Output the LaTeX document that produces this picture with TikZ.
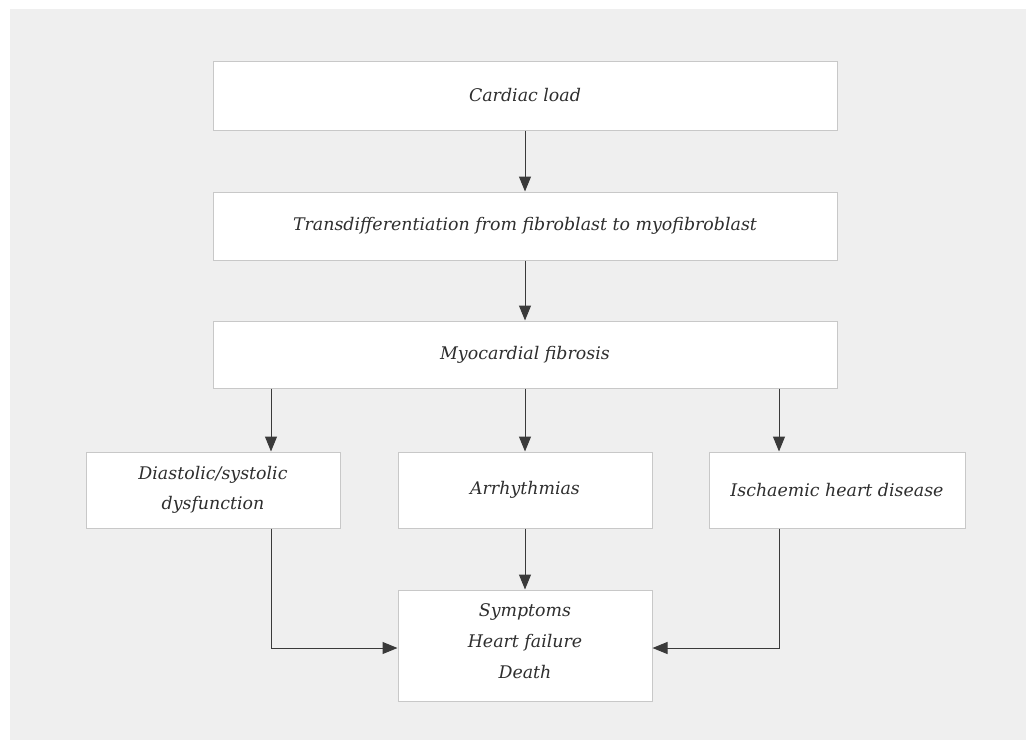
\documentclass[tikz,border=0pt]{standalone}
\usepackage{fontspec}
\setmainfont{DejaVu Serif}
\usetikzlibrary{arrows.meta}
\definecolor{panel}{HTML}{EFEFEF}
\definecolor{boxline}{HTML}{C8C8C8}
\definecolor{txt}{HTML}{2E2E2E}
\definecolor{arr}{HTML}{3A3A3A}
\tikzset{
  box/.style={draw=boxline, line width=1pt, fill=white, inner sep=0pt, align=center,
     text=txt, font=\fontsize{17.4}{30}\selectfont\itshape},
  conn/.style={draw=arr, line width=1pt, -{Triangle[length=15pt,width=12pt]}},
}
\begin{document}
\begin{tikzpicture}[x=1pt,y=-1pt]
\useasboundingbox (0,0) rectangle (1026,740);
\fill[white] (0,0) rectangle (1026,740);
\fill[panel] (10,9) rectangle (1026,740);
% boxes
\node[box, minimum width=624pt, minimum height=69pt] (load) at (525,95.5) {Cardiac load};
\node[box, minimum width=624pt, minimum height=68pt] (trans) at (525,226) {Transdifferentiation from fibroblast to myofibroblast};
\node[box, minimum width=624pt, minimum height=67pt] (fib) at (525,354.5) {Myocardial fibrosis};
\node[box, minimum width=254pt, minimum height=76pt] (dia) at (213,490) {Diastolic/systolic\\dysfunction};
\node[box, minimum width=254pt, minimum height=76pt] (arr) at (525,490) {Arrhythmias};
\node[box, minimum width=256pt, minimum height=76pt] (isch) at (837,490) {Ischaemic heart disease};
\node[box, minimum width=254pt, minimum height=111pt] (sym) at (525,645.5) {};
\node[text=txt, font=\fontsize{17.4}{31}\selectfont\itshape, align=center, inner sep=0pt] (symtxt) at (525,641) {Symptoms\\Heart failure\\Death};
% connectors
\draw[conn] (load.south) -- (trans.north);
\draw[conn] (trans.south) -- (fib.north);
\coordinate (fa) at (271,0);
\coordinate (fb) at (779,0);
\draw[conn] (fib.south -| fa) -- (dia.north -| fa);
\draw[conn] (fib.south) -- (arr.north);
\draw[conn] (fib.south -| fb) -- (isch.north -| fb);
\draw[conn] (arr.south) -- (sym.north);
\coordinate (jy) at (0,648);
\draw[conn] (dia.south -| fa) |- (sym.west |- jy);
\draw[conn] (isch.south -| fb) |- (sym.east |- jy);
\end{tikzpicture}
\end{document}
